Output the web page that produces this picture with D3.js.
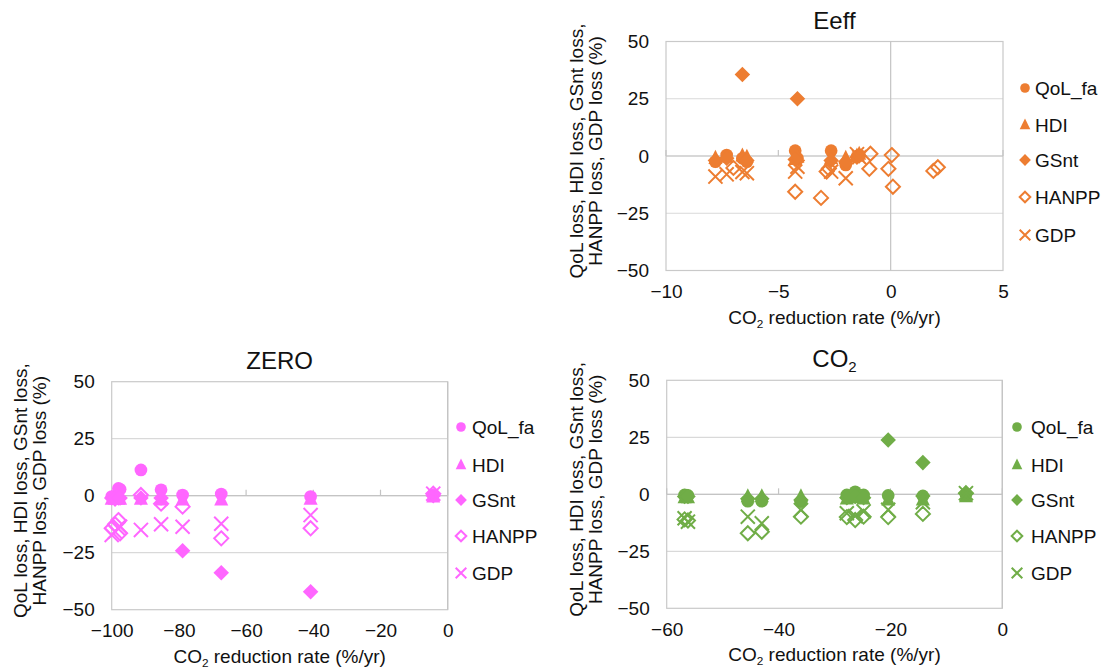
<!DOCTYPE html>
<html><head><meta charset="utf-8">
<script src="https://cdn.jsdelivr.net/npm/d3@7"></script>
<style>
html,body{margin:0;padding:0;background:#fff;}
svg{display:block;font-family:"Liberation Sans",Arial,sans-serif;}
</style></head>
<body>
<svg id="chart" width="1112" height="669"></svg>
<script>
// ---------- data ----------
const seriesNames = ["QoL_fa", "HDI", "GSnt", "HANPP", "GDP"];
const yTicks = [-50, -25, 0, 25, 50];

// Eeff panel
const eeffTicksX = [-10, -5, 0, 5];
const eeffX = [-7.8, -7.3, -6.6, -6.4, -4.25, -4.15, -2.65, -2.0, -1.5, -1.4];
const eeffQoL = [-2.5, 0.4, -1.0, -2.5, 2.3, -1.0, 2.3, -3.9, -0.3, 0.4];
const eeffHDI = [-1.0, -0.5, 0.0, -0.5, -1.5, -0.5, -1.0, -1.0, 0.0, 0.8];
const eeffGSnt = [-2.0, -1.0, 35.6, -2.0, -1.5, 25.0, -2.0, -2.5, -0.5, 0.0];
const eeffGDP = [-9.0, -8.0, -7.0, -7.5, -6.8, -4.7, -6.8, -9.7, 0.8, -0.5];
const eeffHANPPx = [-7.0, -4.25, -3.1, -2.85, -2.75, -0.9, -0.95, 0.05, -0.1, 0.1, 1.9, 2.1];
const eeffHANPP = [-5.2, -15.6, -18.3, -6.8, -5.5, 1.0, -5.6, 0.4, -5.6, -13.4, -6.5, -4.9];

// ZERO panel
const zeroTicksX = [-100, -80, -60, -40, -20, 0];
const zeroX = [-100, -99, -98, -97.5, -91.3, -85.3, -78.9, -67.4, -40.8, -4.3];
const zeroQoL = [-0.4, -1.0, 3.2, 2.8, 11.3, 2.6, 0.3, 0.7, -0.4, 0.3];
const zeroHDI = [-1.5, -1.5, -1.5, -1.5, -1.5, -1.8, -1.8, -1.8, -1.5, -0.5];
const zeroGSnt = [-1.0, -1.5, -1.0, -1.0, -1.0, -1.0, -24.1, -33.8, -42.1, 0.0];
const zeroHANPP = [-14.3, -12.5, -10.7, -16.5, 0.3, -3.5, -4.8, -18.7, -14.3, 0.9];
const zeroGDP = [-17.2, -15.8, -14.5, -13.6, -15.0, -12.5, -13.6, -12.3, -8.5, 0.9];

// CO2 panel
const co2TicksX = [-60, -40, -20, 0];
const co2X = [-56.8, -56.2, -45.5, -43.0, -36.0, -27.8, -26.3, -24.8, -20.4, -14.2, -6.5];
const co2QoL = [-0.3, -0.5, -3.0, -3.0, -3.2, -0.3, 1.1, -0.3, -0.5, -0.7, 0.0];
const co2HDI = [-1.5, -1.5, -1.0, -1.0, -1.0, -2.0, -1.5, -2.0, -2.5, -2.5, -1.0];
const co2GSnt = [-1.0, -1.0, -2.0, -2.0, -2.5, -1.5, -1.0, -1.5, 23.8, 13.9, 0.5];
const co2HANPP = [-11.0, -11.5, -17.1, -16.4, -9.8, -10.0, -11.3, -9.8, -10.0, -8.6, 0.5];
const co2GDP = [-10.5, -12.0, -9.8, -12.7, -6.9, -8.3, -9.5, -7.5, -6.8, -3.5, 0.5];

// ---------- drawing ----------
const svg = d3.select("#chart");
const FS = 19;

function co2Text(sel) {
  sel.append("tspan").text("CO");
  sel.append("tspan").attr("font-size", FS * 0.62).attr("dy", 4).text("2");
  sel.append("tspan").attr("dy", -4).text(" reduction rate (%/yr)");
}

function marker(g, type, x, y, color, s) {
  if (type === "circle") {
    g.append("circle").attr("cx", x).attr("cy", y).attr("r", s * 0.86).attr("fill", color);
  } else if (type === "triangle") {
    const h = s * 1.9, w = s * 1.9;
    g.append("path").attr("d", `M${x},${y - h * 0.6}L${x + w / 2},${y + h * 0.4}L${x - w / 2},${y + h * 0.4}Z`).attr("fill", color);
  } else if (type === "diamond") {
    const r = s * 1.05;
    g.append("path").attr("d", `M${x},${y - r}L${x + r},${y}L${x},${y + r}L${x - r},${y}Z`).attr("fill", color);
  } else if (type === "odiamond") {
    const r = s * 0.95;
    g.append("path").attr("d", `M${x},${y - r}L${x + r},${y}L${x},${y + r}L${x - r},${y}Z`)
      .attr("fill", "none").attr("stroke", color).attr("stroke-width", 2);
  } else if (type === "x") {
    const r = s * 0.95;
    g.append("path").attr("d", `M${x - r},${y - r}L${x + r},${y + r}M${x - r},${y + r}L${x + r},${y - r}`)
      .attr("fill", "none").attr("stroke", color).attr("stroke-width", 2);
  }
}
const types = ["circle", "triangle", "diamond", "odiamond", "x"];

function panel(cfg) {
  const x = d3.scaleLinear().domain(cfg.xDomain).range([cfg.L, cfg.R]);
  const y = d3.scaleLinear().domain([-50, 50]).range([cfg.B, cfg.T]);
  const g = svg.append("g");
  // gridlines
  g.selectAll(".grid").data(yTicks.filter(d => d !== -50 && d !== 50)).join("line")
    .attr("x1", cfg.L).attr("x2", cfg.R).attr("y1", d => y(d)).attr("y2", d => y(d))
    .attr("stroke", "#d9d9d9").attr("stroke-width", 1.2);
  // plot border
  g.append("rect").attr("x", cfg.L).attr("y", cfg.T).attr("width", cfg.R - cfg.L).attr("height", cfg.B - cfg.T)
    .attr("fill", "none").attr("stroke", "#c9c9c9").attr("stroke-width", 1.2);
  // vertical axis at x=0
  g.append("line").attr("x1", x(0)).attr("x2", x(0)).attr("y1", cfg.T).attr("y2", cfg.B)
    .attr("stroke", "#c4c4c4").attr("stroke-width", 1.2);
  // horizontal axis at y=0 with ticks
  g.append("line").attr("x1", cfg.L).attr("x2", cfg.R).attr("y1", y(0)).attr("y2", y(0))
    .attr("stroke", "#c4c4c4").attr("stroke-width", 1.2);
  g.selectAll(".tk").data(cfg.xTicks).join("line")
    .attr("x1", d => x(d)).attr("x2", d => x(d)).attr("y1", y(0)).attr("y2", y(0) - 6)
    .attr("stroke", "#c4c4c4").attr("stroke-width", 1.2);

  // tick labels (through d3 axes, lines hidden)
  const ax = d3.axisBottom(x).tickValues(cfg.xTicks).tickSize(0).tickPadding(0).tickFormat(d3.format("d"));
  const axg = g.append("g").attr("transform", `translate(0,${cfg.B + 14})`).call(ax);
  axg.select(".domain").remove();
  axg.selectAll("text").attr("font-size", FS).attr("fill", "#111").attr("font-family", "Liberation Sans, Arial, sans-serif");
  const ay = d3.axisLeft(y).tickValues(yTicks).tickSize(0).tickPadding(0).tickFormat(d3.format("d"));
  const ayg = g.append("g").attr("transform", `translate(${cfg.L - 17},0)`).call(ay);
  ayg.select(".domain").remove();
  ayg.selectAll("text").attr("font-size", FS).attr("fill", "#111").attr("font-family", "Liberation Sans, Arial, sans-serif");

  // title
  const tt = g.append("text").attr("x", (cfg.L + cfg.R) / 2).attr("y", cfg.T - 13)
    .attr("text-anchor", "middle").attr("font-size", 24).attr("fill", "#111");
  if (cfg.title === "CO2") {
    tt.append("tspan").text("CO");
    tt.append("tspan").attr("font-size", 15).attr("dy", 5).text("2");
  } else tt.text(cfg.title);

  // x axis title
  g.append("text").attr("x", (cfg.L + cfg.R) / 2).attr("y", cfg.B + 53)
    .attr("text-anchor", "middle").attr("font-size", FS).attr("fill", "#111").call(co2Text);
  // y axis title
  const cy = (cfg.T + cfg.B) / 2 - 5;
  const yt = g.append("text").attr("transform", `translate(${cfg.yTitleX},${cy}) rotate(-90)`)
    .attr("text-anchor", "middle").attr("font-size", FS).attr("fill", "#111");
  yt.append("tspan").attr("x", 0).attr("dy", 0).text("QoL loss, HDI loss, GSnt loss,");
  yt.append("tspan").attr("x", 0).attr("dy", 19).text("HANPP loss, GDP loss (%)");

  // points
  const pg = g.append("g");
  cfg.series.forEach((s, i) => {
    s.y.forEach((v, j) => {
      marker(pg, types[i], x(s.x[j]), y(v), cfg.color, 7.4);
    });
  });

  // legend
  const lg = g.append("g");
  seriesNames.forEach((n, i) => {
    const ly = cfg.legendY[i];
    marker(lg, types[i], cfg.legendX, ly, cfg.color, 5.6);
    lg.append("text").attr("x", cfg.legendX + cfg.legendGap).attr("y", ly).attr("dy", "0.35em")
      .attr("font-size", FS).attr("fill", "#111").text(n);
  });
}

panel({
  title: "Eeff", color: "#ED7D31", xDomain: [-10, 5], xTicks: eeffTicksX,
  L: 666, R: 1003, T: 41.5, B: 270.5, yTitleX: 583,
  legendX: 1025, legendGap: 10, legendY: [88, 125, 160, 197, 235],
  series: [
    {x: eeffX, y: eeffQoL}, {x: eeffX, y: eeffHDI}, {x: eeffX, y: eeffGSnt},
    {x: eeffHANPPx, y: eeffHANPP}, {x: eeffX, y: eeffGDP}
  ]
});
panel({
  title: "ZERO", color: "#FF66FF", xDomain: [-100, 0], xTicks: zeroTicksX,
  L: 111.7, R: 447.7, T: 381.7, B: 609.7, yTitleX: 27,
  legendX: 461, legendGap: 11, legendY: [427, 465, 500, 536, 573],
  series: [
    {x: zeroX, y: zeroQoL}, {x: zeroX, y: zeroHDI}, {x: zeroX, y: zeroGSnt},
    {x: zeroX, y: zeroHANPP}, {x: zeroX, y: zeroGDP}
  ]
});
panel({
  title: "CO2", color: "#70AD47", xDomain: [-60, 0], xTicks: co2TicksX,
  L: 666.7, R: 1002.3, T: 380.3, B: 608.3, yTitleX: 583,
  legendX: 1017, legendGap: 14, legendY: [427, 465, 500, 536, 573],
  series: [
    {x: co2X, y: co2QoL}, {x: co2X, y: co2HDI}, {x: co2X, y: co2GSnt},
    {x: co2X, y: co2HANPP}, {x: co2X, y: co2GDP}
  ]
});
</script>
</body></html>
